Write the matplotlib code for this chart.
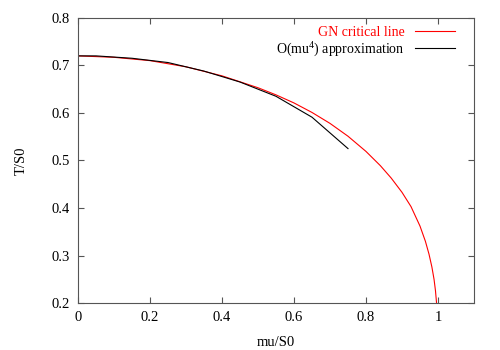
import matplotlib
matplotlib.use('Agg')
import matplotlib.pyplot as plt
from matplotlib.ticker import FuncFormatter

plt.rcParams['font.family'] = ['Liberation Serif', 'DejaVu Serif']
plt.rcParams['mathtext.fontset'] = 'custom'
plt.rcParams['mathtext.rm'] = 'Liberation Serif'

# GN critical line
mu_gn = [0.0, 0.1, 0.2, 0.3, 0.4, 0.5, 0.55, 0.6, 0.65, 0.7, 0.75, 0.8, 0.84,
         0.87, 0.9, 0.925, 0.95, 0.965, 0.975, 0.983, 0.989, 0.993, 0.996]
t_gn = [0.72, 0.717, 0.710, 0.697, 0.678, 0.653, 0.638, 0.621, 0.601, 0.578,
        0.551, 0.519, 0.489, 0.463, 0.433, 0.403, 0.362, 0.330, 0.303, 0.276,
        0.250, 0.226, 0.200]

# O(mu^4) approximation
mu_ap = [0.0, 0.05, 0.15, 0.25, 0.35, 0.45, 0.55, 0.65, 0.75]
t_ap = [0.72, 0.720, 0.715, 0.706, 0.688, 0.665, 0.635, 0.591, 0.525]

fig = plt.figure(figsize=(5, 3.5), dpi=100)
ax = fig.add_axes([0.156, 0.134, 0.792, 0.815])

ax.plot(mu_gn, t_gn, color='#ff0000', lw=0.8, label='GN critical line')
ax.plot(mu_ap, t_ap, color='black', lw=0.8, label='O(mu$^4$) approximation')

ax.set_xlim(0, 1.1)
ax.set_ylim(0.2, 0.8)
ax.set_xticks([0, 0.2, 0.4, 0.6, 0.8, 1.0])
ax.set_yticks([0.2, 0.3, 0.4, 0.5, 0.6, 0.7, 0.8])
ax.xaxis.set_major_formatter(FuncFormatter(lambda v, p: '%g' % v))
ax.yaxis.set_major_formatter(FuncFormatter(lambda v, p: '%g' % v))
ax.tick_params(direction='in', top=True, right=True, length=4, width=0.8,
               labelsize=10.5, pad=6, color='#555555')
for s in ax.spines.values():
    s.set_color('#555555')
    s.set_linewidth(0.8)

ax.set_xlabel('mu/S0', fontsize=10.5, labelpad=8)
ax.set_ylabel('T/S0', fontsize=10.5, labelpad=17)

leg = ax.legend(loc='upper right', bbox_to_anchor=(0.966, 0.99),
                frameon=False, markerfirst=False, fontsize=10,
                handlelength=2.9, handletextpad=0.7, labelspacing=0.0,
                borderaxespad=0, labelcolor=['#ff0000', 'black'])

fig.savefig('out.png', dpi=100)
